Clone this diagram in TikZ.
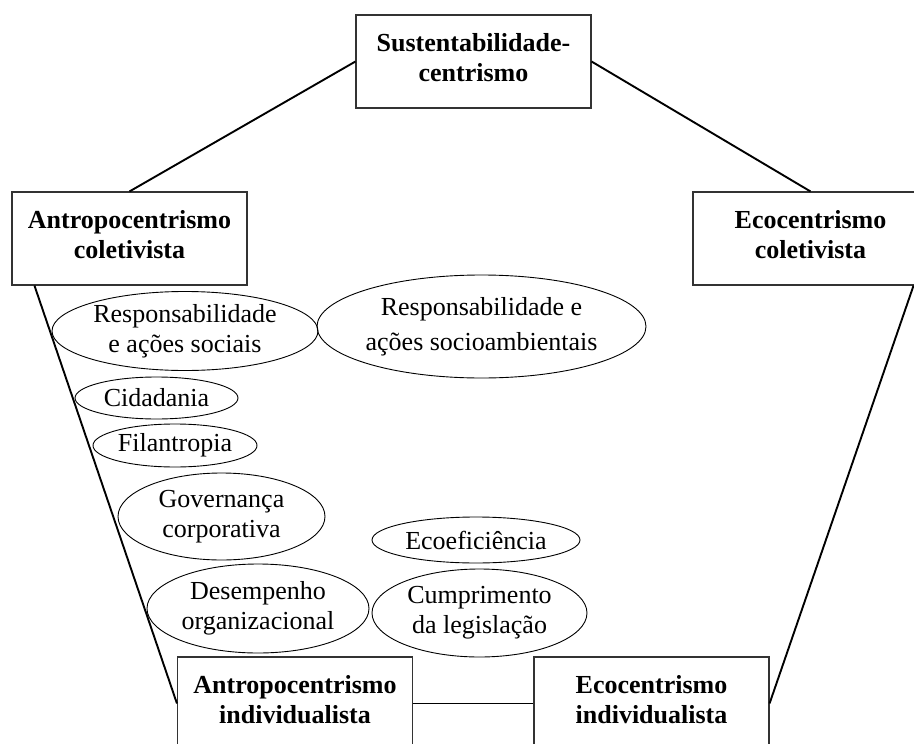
\documentclass[tikz,border=0pt]{standalone}
\usepackage{fontspec}
\setmainfont{Liberation Serif}
\usetikzlibrary{shapes.geometric}
\begin{document}
\begin{tikzpicture}[x=1pt,y=-1pt,
  boxnode/.style={draw=black!80, line width=1.1pt, rectangle, minimum width=235pt, minimum height=93pt, inner sep=0pt},
  boxtext/.style={align=center, font=\fontsize{26}{30}\selectfont\bfseries, inner sep=0pt},
  oval/.style={draw, ellipse, line width=0.9pt, align=center, inner sep=0pt, font=\fontsize{26}{30}\selectfont},
  link/.style={line width=1.9pt}]
\useasboundingbox (0,0) rectangle (914,744);

% boxes
\node[boxnode] (top) at (473.5,61.5) {};
\node[boxtext] (toptxt) at ([yshift=4pt]top.center) {Sustentabilidade-\\centrismo};
\node[boxnode] (lc) at (129.5,238.5) {};
\node[boxtext] (lctxt) at ([yshift=4pt]lc.center) {Antropocentrismo\\coletivista};
\node[boxnode] (rc) at (810.5,238.5) {};
\node[boxtext] (rctxt) at ([yshift=4pt]rc.center) {Ecocentrismo\\coletivista};
\node[boxnode] (bl) at (295,703.5) {};
\node[boxtext] (bltxt) at ([yshift=4pt]bl.center) {Antropocentrismo\\individualista};
\node[boxnode] (br) at (651.5,703.5) {};
\node[boxtext] (brtxt) at ([yshift=4pt]br.center) {Ecocentrismo\\individualista};

% connectors
\draw[link] (top.west) -- (lc.north);
\draw[link] (top.east) -- (rc.north);
\draw[link] ([xshift=23pt]lc.south west) -- (bl.west);
\draw[link] ([xshift=-15pt]rc.south east) -- (br.east);
\draw[link] (bl.east) -- (br.west);

% ellipses
\node[oval, minimum width=266pt, minimum height=79pt] (e1) at (185,331) {Responsabilidade\\e ações sociais};
\node[oval, minimum width=329pt, minimum height=103pt, font=\fontsize{26}{35}\selectfont] (e2) at (481.5,326.5) {Responsabilidade e\\ações socioambientais};
\node[oval, minimum width=163pt, minimum height=42pt] (e3) at (156.5,398) {Cidadania};
\node[oval, minimum width=164pt, minimum height=43pt] (e4) at (175,445.5) {Filantropia};
\node[oval, minimum width=207pt, minimum height=87pt] (e5) at (221.5,516.5) {Governança\\corporativa};
\node[oval, minimum width=208pt, minimum height=46pt] (e6) at (476,540) {Ecoeficiência};
\node[oval, minimum width=222pt, minimum height=89pt] (e7) at (258,608.5) {Desempenho\\organizacional};
\node[oval, minimum width=215pt, minimum height=88pt] (e8) at (479.5,613) {Cumprimento\\da legislação};
\end{tikzpicture}
\end{document}
